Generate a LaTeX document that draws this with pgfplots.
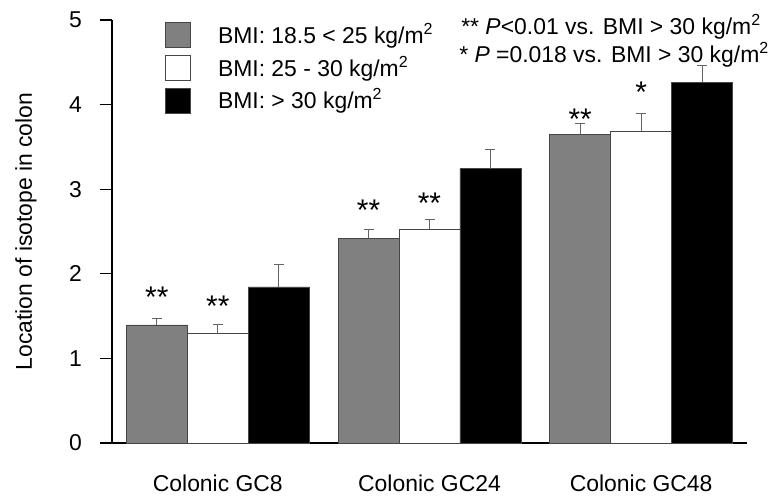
\documentclass[border=0pt]{standalone}
\usepackage{fontspec}
\setmainfont{Liberation Sans}
\usepackage{pgfplots}
\pgfplotsset{compat=1.18}
\newcommand{\myfont}{\fontsize{23}{27}\selectfont}
\newcommand{\starfont}{\fontsize{30}{30}\selectfont}
\definecolor{bargray}{RGB}{128,128,128}
\definecolor{edgegray}{RGB}{70,70,70}
\definecolor{errgray}{RGB}{100,100,100}
\pgfplotsset{
  sqlegend/.style={legend image code/.code={%
    \draw[fill=#1, draw=edgegray, line width=0.8bp] (0bp,-4.5bp) rectangle (25bp,20.5bp);}},
}
\begin{document}
\begin{tikzpicture}
\begin{axis}[
  name=ax,
  scale only axis,
  width=635bp, height=423bp,
  xmin=-0.5, xmax=2.5, ymin=0, ymax=5,
  ybar=0pt, bar width=0.288,
  axis x line=bottom, axis y line=left,
  axis line style={line width=1.3bp, -},
  xtick={0,1,2},
  xticklabels={Colonic GC8, Colonic GC24, Colonic GC48},
  x tick style={draw=none},
  ytick={0,1,2,3,4,5},
  y tick style={line width=1.3bp, black},
  tick align=outside,
  major tick length=12bp,
  /pgf/number format/assume math mode=true,
  tick label style={font=\myfont},
  xticklabel style={anchor=base, yshift=-36bp},
  yticklabel style={anchor=east, inner sep=0pt, xshift=-18bp},
  ylabel={Location of isotope in colon},
  ylabel style={font=\myfont, at={(rel axis cs:-0.1354,0.5)}, anchor=center},
  legend style={font=\myfont, at={(rel axis cs:0.0835,0.995)}, anchor=north west,
    draw=none, fill=none, inner sep=0pt, row sep=7bp, cells={anchor=base west},
    nodes={inner sep=0pt},
    /tikz/every odd column/.append style={column sep=27bp}},
  clip=false,
]
\addplot[fill=bargray, draw=edgegray, line width=0.8bp, sqlegend=bargray,
  error bars/.cd, y dir=plus, y explicit,
  error bar style={line width=1bp, errgray},
  error mark options={rotate=90, mark size=5bp, line width=1bp, errgray}]
  table[x=x, y=y, y error=e] {
x y e
0 1.395 0.074
1 2.420 0.098
2 3.649 0.122
};
\addplot[fill=white, draw=edgegray, line width=0.8bp, sqlegend=white,
  error bars/.cd, y dir=plus, y explicit,
  error bar style={line width=1bp, errgray},
  error mark options={rotate=90, mark size=5bp, line width=1bp, errgray}]
  table[x=x, y=y, y error=e] {
x y e
0 1.292 0.106
1 2.526 0.110
2 3.688 0.209
};
\addplot[fill=black, draw=edgegray, line width=0.8bp, sqlegend=black,
  error bars/.cd, y dir=plus, y explicit,
  error bar style={line width=1bp, errgray},
  error mark options={rotate=90, mark size=5bp, line width=1bp, errgray}]
  table[x=x, y=y, y error=e] {
x y e
0 1.844 0.268
1 3.242 0.230
2 4.264 0.201
};
\legend{BMI: 18.5 < 25 kg/m\textsuperscript{2}, BMI: 25 - 30 kg/m\textsuperscript{2}, BMI: > 30 kg/m\textsuperscript{2}}
\node[font=\starfont, anchor=base] at (axis cs:-0.288,1.60) {**};
\node[font=\starfont, anchor=base] at (axis cs:0,1.49) {**};
\node[font=\starfont, anchor=base] at (axis cs:0.712,2.63) {**};
\node[font=\starfont, anchor=base] at (axis cs:1,2.71) {**};
\node[font=\starfont, anchor=base] at (axis cs:1.712,3.71) {**};
\node[font=\starfont, anchor=base] at (axis cs:2,4.02) {*};
\node[font=\myfont, anchor=base] at (rel axis cs:0.7858,0.965) {** \textit{P}<0.01 vs. BMI > 30 kg/m\textsuperscript{2}};
\node[font=\myfont, anchor=base] at (rel axis cs:0.7906,0.900) {* \textit{P} =0.018 vs. BMI > 30 kg/m\textsuperscript{2}};
\end{axis}
\pgfresetboundingbox
\path (ax.south west) +(-112bp,-57bp) rectangle +(661bp,443bp);
\end{tikzpicture}
\end{document}
